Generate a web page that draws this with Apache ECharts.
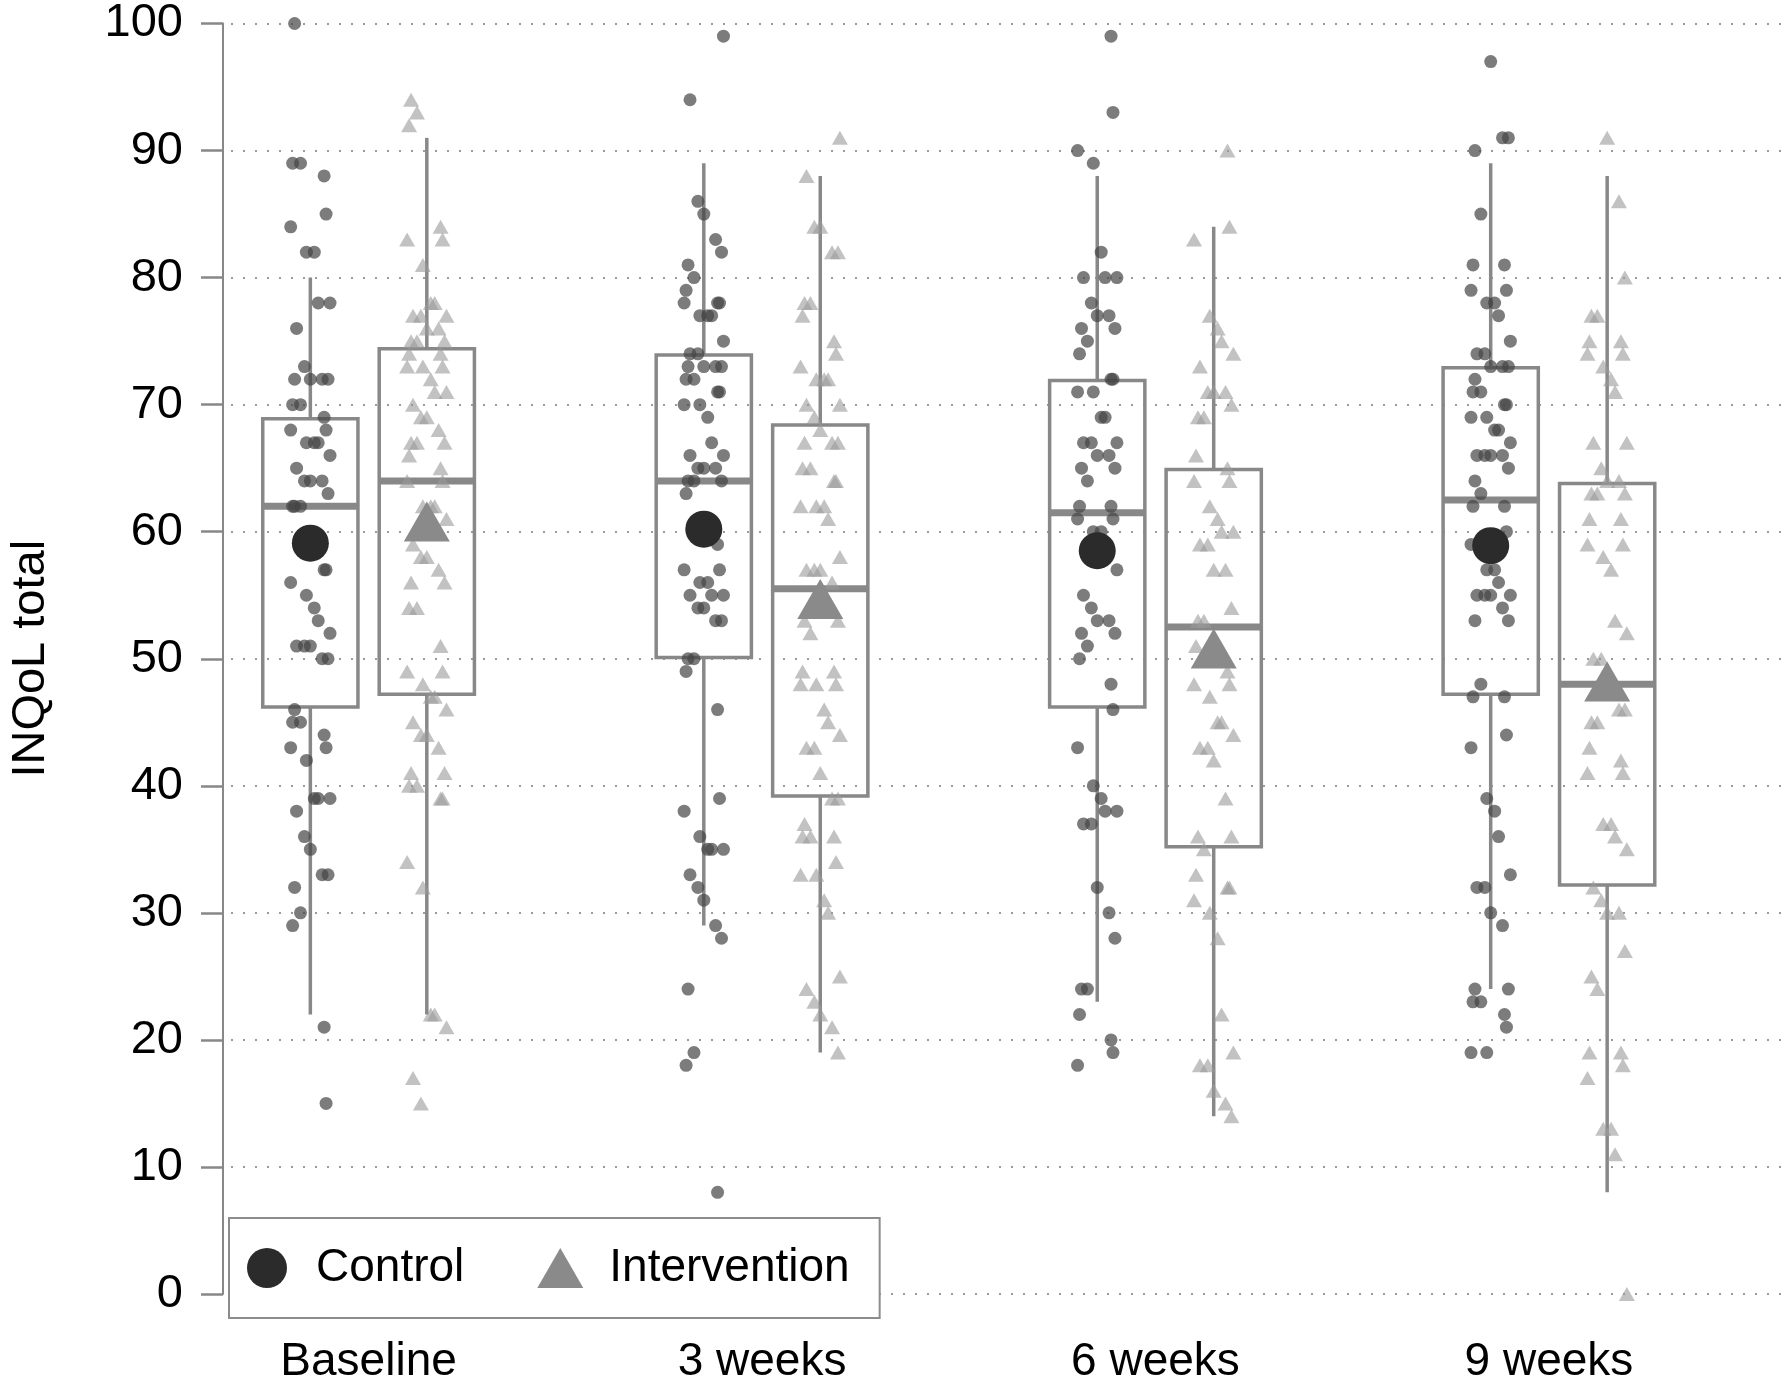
<!DOCTYPE html>
<html><head><meta charset="utf-8">
<script src="https://cdn.jsdelivr.net/npm/echarts@6/dist/echarts.min.js"></script>
<style>html,body{margin:0;padding:0;background:#fff}#c{width:1785px;height:1385px}</style>
</head><body><div id="c"></div>
<script>
const categories = ['Baseline', '3 weeks', '6 weeks', '9 weeks'];
const groupNames = ['Control', 'Intervention'];

// Individual scores
const ctrlBaseline = [100, 89, 89, 88, 85, 84, 82, 82, 78, 78, 76, 73, 72, 72, 72, 72, 70, 70, 69, 68, 68, 67, 67, 67, 66, 65, 64, 64, 64, 63, 62, 62, 62, 57, 57, 56, 55, 54, 53, 52, 51, 51, 51, 50, 50, 46, 45, 45, 44, 43, 43, 42, 39, 39, 39, 38, 36, 35, 33, 33, 32, 30, 29, 21, 15];
const intBaseline = [94, 93, 92, 84, 83, 83, 81, 78, 78, 77, 77, 77, 76, 76, 75, 75, 75, 74, 74, 73, 73, 73, 72, 71, 71, 70, 69, 69, 68, 67, 67, 67, 66, 65, 64, 64, 62, 62, 62, 61, 59, 58, 58, 57, 56, 56, 54, 54, 51, 49, 49, 48, 47, 47, 46, 45, 44, 44, 43, 41, 41, 40, 40, 39, 39, 34, 32, 22, 22, 21, 17, 15];
const ctrlWeek3 = [99, 94, 86, 85, 83, 82, 81, 80, 79, 78, 78, 78, 77, 77, 77, 75, 74, 74, 73, 73, 73, 73, 72, 72, 71, 71, 70, 70, 69, 67, 66, 66, 65, 65, 65, 64, 64, 64, 63, 59, 57, 57, 56, 56, 55, 55, 55, 54, 54, 53, 53, 50, 50, 49, 46, 39, 38, 36, 35, 35, 35, 33, 32, 31, 29, 28, 24, 19, 18, 8];
const intWeek3 = [91, 88, 84, 84, 82, 82, 78, 78, 77, 75, 74, 73, 72, 72, 72, 70, 70, 69, 68, 67, 67, 67, 65, 65, 64, 64, 62, 62, 62, 61, 58, 57, 57, 57, 56, 53, 53, 52, 49, 49, 48, 48, 48, 46, 45, 44, 43, 43, 41, 39, 39, 37, 36, 36, 36, 34, 33, 33, 31, 30, 25, 24, 23, 22, 21, 19];
const ctrlWeek6 = [99, 93, 90, 89, 82, 80, 80, 80, 78, 77, 77, 76, 76, 75, 74, 72, 72, 71, 71, 69, 69, 67, 67, 67, 66, 66, 65, 65, 64, 62, 62, 61, 61, 60, 60, 58, 57, 55, 54, 53, 53, 52, 52, 51, 50, 48, 46, 43, 40, 39, 38, 38, 37, 37, 32, 30, 28, 24, 24, 22, 20, 19, 18];
const intWeek6 = [90, 84, 83, 77, 76, 75, 74, 73, 71, 71, 71, 70, 69, 69, 66, 65, 64, 64, 62, 61, 60, 60, 59, 59, 57, 57, 54, 53, 53, 51, 49, 48, 48, 47, 45, 45, 44, 43, 43, 42, 39, 36, 36, 35, 33, 32, 32, 31, 30, 28, 22, 19, 18, 18, 16, 15, 14];
const ctrlWeek9 = [97, 91, 91, 90, 85, 81, 81, 79, 79, 78, 78, 77, 75, 74, 74, 73, 73, 73, 72, 71, 71, 70, 70, 69, 69, 68, 68, 67, 66, 66, 66, 66, 65, 64, 63, 62, 62, 60, 59, 57, 57, 56, 55, 55, 55, 55, 54, 53, 53, 48, 47, 47, 44, 43, 39, 38, 36, 33, 32, 32, 30, 29, 24, 24, 23, 23, 22, 21, 19, 19];
const intWeek9 = [91, 86, 80, 77, 77, 75, 75, 74, 74, 73, 72, 71, 67, 67, 65, 64, 64, 63, 63, 63, 61, 61, 59, 59, 58, 57, 53, 52, 50, 50, 49, 46, 46, 45, 45, 43, 42, 41, 41, 37, 37, 36, 35, 32, 31, 30, 30, 27, 25, 24, 19, 19, 18, 17, 13, 13, 11, 0];

// Box plot statistics per time point
const ctrlLow    = [22, 29, 23, 24];
const ctrlQ1     = [46.2, 50.1, 46.2, 47.2];
const ctrlMedian = [62, 64, 61.5, 62.5];
const ctrlQ3     = [68.9, 73.9, 71.9, 72.9];
const ctrlHigh   = [80, 89, 88, 89];
const ctrlMean   = [59.1, 60.2, 58.5, 58.9];

const intLow    = [22, 19, 14, 8];
const intQ1     = [47.2, 39.2, 35.2, 32.2];
const intMedian = [64, 55.5, 52.5, 48];
const intQ3     = [74.4, 68.4, 64.9, 63.8];
const intHigh   = [91, 88, 84, 88];
const intMean   = [60.8, 54.7, 50.8, 48.2];

const yTickValues = [0, 10, 20, 30, 40, 50, 60, 70, 80, 90, 100];

// ---- layout constants (not data) ----
const GROUP_OFFSET = 0.148;
const BOX_HALF = 0.121;
const JITTER = [-0.04, 0.03, -0.015, 0.05, 0.01, -0.05, 0.035, -0.025, 0.045, 0.0, -0.035, 0.02, -0.01, 0.04, -0.045];
const FONT = '"Liberation Sans", Arial, Helvetica, sans-serif';

const ctrlPoints = [ctrlBaseline, ctrlWeek3, ctrlWeek6, ctrlWeek9];
const intPoints = [intBaseline, intWeek3, intWeek6, intWeek9];

function jittered(groups, offset) {
  const out = [];
  groups.forEach((vals, gi) => {
    vals.forEach((v, i) => {
      out.push([gi + 1 + offset + JITTER[(i * 7 + gi * 3) % JITTER.length], v]);
    });
  });
  return out;
}
function boxData(offset, lo, q1, med, q3, hi) {
  return categories.map((c, i) => [i + 1 + offset, lo[i], q1[i], med[i], q3[i], hi[i]]);
}
function meanData(offset, means) {
  return means.map((m, i) => [i + 1 + offset, m]);
}

const boxColor = '#888888';
function renderBox(params, api) {
  const x = api.value(0);
  const lo = api.value(1), q1 = api.value(2), med = api.value(3), q3 = api.value(4), hi = api.value(5);
  const tl = api.coord([x - BOX_HALF, q3]);
  const br = api.coord([x + BOX_HALF, q1]);
  const cx = api.coord([x, 0])[0];
  const yMed = api.coord([x, med])[1];
  const yLo = api.coord([x, lo])[1];
  const yHi = api.coord([x, hi])[1];
  const st = { stroke: boxColor, lineWidth: 3.5, fill: null };
  return {
    type: 'group',
    children: [
      { type: 'line', shape: { x1: cx, y1: tl[1], x2: cx, y2: yHi }, style: st },
      { type: 'line', shape: { x1: cx, y1: br[1], x2: cx, y2: yLo }, style: st },
      { type: 'rect', shape: { x: tl[0], y: tl[1], width: br[0] - tl[0], height: br[1] - tl[1] }, style: st },
      { type: 'line', shape: { x1: tl[0], y1: yMed, x2: br[0], y2: yMed }, style: { stroke: boxColor, lineWidth: 7 } }
    ]
  };
}

const chart = echarts.init(document.getElementById('c'), null, { renderer: 'canvas' });
chart.setOption({
  animation: false,
  backgroundColor: '#ffffff',
  textStyle: { fontFamily: FONT },
  grid: { left: 207, right: 0, top: 22, bottom: 87, containLabel: false },
  xAxis: {
    type: 'value', min: 0.63, max: 4.6,
    axisLine: { show: false }, axisTick: { show: false }, splitLine: { show: false },
    axisLabel: {
      customValues: [1, 2, 3, 4],
      formatter: v => categories[Math.round(v) - 1] || '',
      fontSize: 46, color: '#000', margin: 45, fontFamily: FONT
    }
  },
  yAxis: {
    type: 'value', min: 0, max: 100, interval: 10,
    name: 'INQoL total', nameLocation: 'middle', nameGap: 168,
    nameTextStyle: { fontSize: 47, color: '#000', fontFamily: FONT },
    axisLine: { show: true, lineStyle: { color: '#888', width: 2 } },
    axisTick: { show: true, length: 22, lineStyle: { color: '#888', width: 2.5 } },
    axisLabel: { fontSize: 47, color: '#000', margin: 40, fontFamily: FONT,
      formatter: v => (yTickValues.indexOf(v) >= 0 ? String(v) : '') },
    splitLine: { show: true, lineStyle: { color: '#9a9a9a', width: 2, type: [2, 10], dashOffset: -8 } }
  },
  legend: {
    data: [{ name: 'Control', icon: 'circle' }, { name: 'Intervention', icon: 'triangle' }],
    left: 229, top: 1218, orient: 'horizontal',
    itemWidth: 46, itemHeight: 40, itemGap: 73,
    padding: [27, 30, 27, 18],
    borderColor: '#8c8c8c', borderWidth: 2, backgroundColor: '#ffffff',
    selectedMode: false, z: 20,
    textStyle: { fontSize: 46, color: '#000', fontFamily: FONT, padding: [0, 0, 0, 21] }
  },
  series: [
    { type: 'custom', name: 'ctrlBox', renderItem: renderBox, data: boxData(-GROUP_OFFSET, ctrlLow, ctrlQ1, ctrlMedian, ctrlQ3, ctrlHigh),
      encode: { x: 0, y: [1, 2, 3, 4, 5] }, z: 2, silent: true },
    { type: 'custom', name: 'intBox', renderItem: renderBox, data: boxData(GROUP_OFFSET, intLow, intQ1, intMedian, intQ3, intHigh),
      encode: { x: 0, y: [1, 2, 3, 4, 5] }, z: 2, silent: true },
    { type: 'scatter', name: 'ctrlPts', data: jittered(ctrlPoints, -GROUP_OFFSET), symbol: 'circle', symbolSize: 13,
      itemStyle: { color: '#444444', opacity: 0.7 }, z: 3, silent: true },
    { type: 'scatter', name: 'intPts', data: jittered(intPoints, GROUP_OFFSET), symbol: 'triangle', symbolSize: [16, 14],
      itemStyle: { color: '#999999', opacity: 0.6 }, z: 3, silent: true },
    { type: 'scatter', name: 'Control', data: meanData(-GROUP_OFFSET, ctrlMean), symbol: 'circle', symbolSize: 37,
      itemStyle: { color: '#2b2b2b', opacity: 1 }, z: 5, silent: true },
    { type: 'scatter', name: 'Intervention', data: meanData(GROUP_OFFSET, intMean), symbol: 'triangle', symbolSize: [46, 40],
      itemStyle: { color: '#8a8a8a', opacity: 1 }, z: 5, silent: true }
  ]
});
</script>
</body></html>
